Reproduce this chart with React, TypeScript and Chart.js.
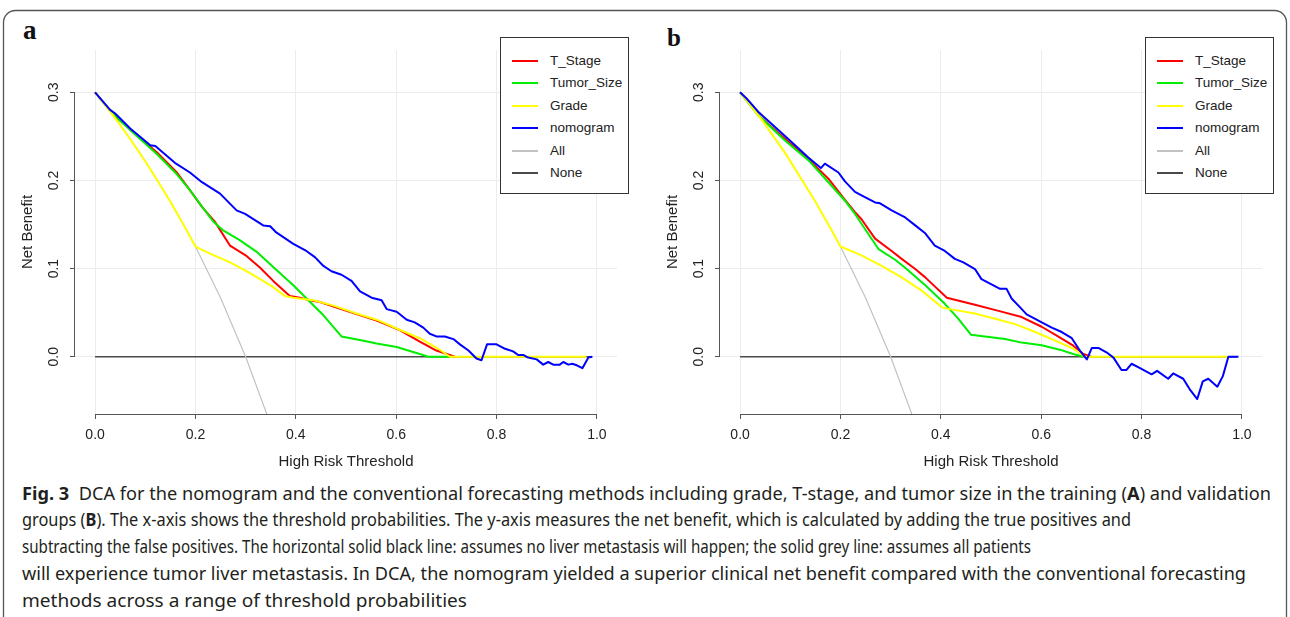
import React, { useEffect, useRef } from "react";
import { Chart, registerables } from "chart.js";

Chart.register(...registerables);

// ---------- axes ----------
const X_TICKS = [0, 0.2, 0.4, 0.6, 0.8, 1.0];
const Y_TICKS = [0, 0.1, 0.2, 0.3];
const X_MIN = -0.04;
const X_MAX = 1.04;
const Y_MIN = -0.065;
const Y_MAX = 0.348;

// ---------- series ----------
const SERIES_NAMES = ["T_Stage", "Tumor_Size", "Grade", "nomogram", "All", "None"];
const SERIES_COLORS = ["#ff0000", "#00ee00", "#ffff00", "#0000ff", "#c2c2c2", "#4a4a4a"];

// shared reference lines
const ALL_X = [0, 0.017, 0.033, 0.043, 0.07, 0.09, 0.11, 0.149, 0.183, 0.2, 0.25, 0.3, 0.35];
const ALL_Y = [0.3, 0.288, 0.276, 0.269, 0.247, 0.231, 0.213, 0.177, 0.143, 0.125, 0.067, 0.0, -0.077];
const NONE_X = [0, 0.99];
const NONE_Y = [0, 0];

// panel a (training)
const A_TSTAGE_X = [0, 0.03, 0.042, 0.076, 0.123, 0.163, 0.189, 0.213, 0.239, 0.269, 0.3, 0.329, 0.355, 0.388, 0.408, 0.428, 0.448, 0.501, 0.561, 0.608, 0.647, 0.68, 0.717];
const A_TSTAGE_Y = [0.3, 0.279, 0.272, 0.255, 0.232, 0.209, 0.189, 0.17, 0.153, 0.126, 0.115, 0.101, 0.086, 0.069, 0.067, 0.064, 0.062, 0.052, 0.041, 0.03, 0.017, 0.007, 0.0];

const A_TUMOR_X = [0, 0.03, 0.042, 0.076, 0.123, 0.163, 0.189, 0.216, 0.236, 0.256, 0.289, 0.322, 0.362, 0.395, 0.425, 0.455, 0.491, 0.535, 0.561, 0.601, 0.647, 0.664, 0.71];
const A_TUMOR_Y = [0.3, 0.279, 0.272, 0.254, 0.23, 0.207, 0.189, 0.168, 0.153, 0.143, 0.132, 0.119, 0.098, 0.081, 0.064, 0.047, 0.023, 0.018, 0.015, 0.011, 0.003, 0.0, 0.0];

const A_GRADE_X = [0, 0.033, 0.07, 0.11, 0.149, 0.183, 0.2, 0.229, 0.269, 0.299, 0.329, 0.355, 0.378, 0.395, 0.435, 0.475, 0.521, 0.561, 0.601, 0.647, 0.684, 0.707, 0.979];
const A_GRADE_Y = [0.3, 0.276, 0.247, 0.213, 0.177, 0.143, 0.125, 0.117, 0.107, 0.098, 0.088, 0.079, 0.069, 0.067, 0.064, 0.058, 0.049, 0.042, 0.032, 0.021, 0.009, 0.0, 0.0];

const A_NOMO_X = [0, 0.03, 0.04, 0.07, 0.11, 0.12, 0.159, 0.189, 0.213, 0.249, 0.282, 0.299, 0.335, 0.349, 0.361, 0.395, 0.421, 0.438, 0.455, 0.471, 0.491, 0.511, 0.528, 0.551, 0.571, 0.581, 0.601, 0.621, 0.637, 0.654, 0.667, 0.68, 0.697, 0.714, 0.727, 0.744, 0.76, 0.77, 0.781, 0.8, 0.817, 0.833, 0.843, 0.853, 0.863, 0.88, 0.893, 0.903, 0.913, 0.926, 0.933, 0.943, 0.951, 0.961, 0.971, 0.983, 0.991];
const A_NOMO_Y = [0.3, 0.28, 0.276, 0.259, 0.24, 0.239, 0.22, 0.209, 0.198, 0.185, 0.166, 0.162, 0.149, 0.148, 0.141, 0.128, 0.12, 0.113, 0.103, 0.097, 0.093, 0.086, 0.074, 0.067, 0.064, 0.054, 0.051, 0.042, 0.039, 0.033, 0.026, 0.023, 0.023, 0.02, 0.014, 0.007, -0.002, -0.004, 0.014, 0.014, 0.009, 0.006, 0.002, 0.002, -0.001, -0.003, -0.009, -0.006, -0.009, -0.009, -0.006, -0.009, -0.008, -0.01, -0.013, -0.001, 0.0];

// panel b (validation)
const B_TSTAGE_X = [0, 0.04, 0.09, 0.136, 0.176, 0.209, 0.229, 0.242, 0.269, 0.302, 0.322, 0.349, 0.369, 0.412, 0.432, 0.468, 0.515, 0.561, 0.601, 0.631, 0.664, 0.684, 0.7];
const B_TSTAGE_Y = [0.3, 0.272, 0.247, 0.224, 0.202, 0.178, 0.164, 0.156, 0.134, 0.12, 0.111, 0.0995, 0.09, 0.067, 0.064, 0.059, 0.052, 0.045, 0.034, 0.024, 0.0125, 0.003, 0.0];

const B_TUMOR_X = [0, 0.036, 0.09, 0.136, 0.176, 0.209, 0.229, 0.256, 0.276, 0.309, 0.329, 0.369, 0.408, 0.435, 0.46, 0.488, 0.528, 0.561, 0.601, 0.637, 0.664, 0.684];
const B_TUMOR_Y = [0.3, 0.274, 0.245, 0.223, 0.198, 0.177, 0.162, 0.139, 0.122, 0.11, 0.101, 0.081, 0.06, 0.043, 0.025, 0.023, 0.02, 0.016, 0.013, 0.008, 0.003, 0.0];

const B_GRADE_X = [0, 0.017, 0.043, 0.09, 0.149, 0.183, 0.2, 0.242, 0.282, 0.322, 0.362, 0.402, 0.418, 0.468, 0.508, 0.548, 0.588, 0.637, 0.664, 0.687, 0.973];
const B_GRADE_Y = [0.3, 0.288, 0.269, 0.231, 0.177, 0.143, 0.125, 0.115, 0.103, 0.09, 0.075, 0.056, 0.054, 0.049, 0.043, 0.037, 0.028, 0.016, 0.009, 0.0, 0.0];

const B_NOMO_X = [0, 0.013, 0.036, 0.063, 0.096, 0.136, 0.161, 0.169, 0.196, 0.209, 0.229, 0.242, 0.269, 0.279, 0.302, 0.329, 0.349, 0.369, 0.388, 0.408, 0.428, 0.445, 0.468, 0.481, 0.501, 0.518, 0.531, 0.541, 0.558, 0.571, 0.588, 0.601, 0.621, 0.641, 0.661, 0.677, 0.691, 0.701, 0.714, 0.73, 0.744, 0.76, 0.77, 0.78, 0.797, 0.82, 0.831, 0.853, 0.863, 0.883, 0.896, 0.911, 0.922, 0.933, 0.951, 0.962, 0.973, 0.993];
const B_NOMO_Y = [0.3, 0.293, 0.278, 0.264, 0.247, 0.226, 0.214, 0.219, 0.209, 0.199, 0.187, 0.183, 0.175, 0.174, 0.166, 0.158, 0.149, 0.14, 0.126, 0.12, 0.111, 0.107, 0.0995, 0.088, 0.082, 0.077, 0.077, 0.066, 0.056, 0.048, 0.043, 0.039, 0.033, 0.028, 0.021, 0.007, -0.003, 0.01, 0.01, 0.005, -0.001, -0.015, -0.015, -0.008, -0.013, -0.02, -0.016, -0.025, -0.019, -0.025, -0.037, -0.048, -0.028, -0.025, -0.034, -0.022, 0.0, 0.0];

// ---------- texts ----------
const X_TITLE = "High Risk Threshold";
const Y_TITLE = "Net Benefit";
const CAPTION_LINES: { parts: { t: string; b?: boolean }[]; w: number }[] = [
  {
    parts: [
      { t: "Fig. 3", b: true },
      { t: "  DCA for the nomogram and the conventional forecasting methods including grade, T-stage, and tumor size in the training (" },
      { t: "A", b: true },
      { t: ") and validation" },
    ],
    w: 1249,
  },
  {
    parts: [
      { t: "groups (" },
      { t: "B", b: true },
      { t: "). The x-axis shows the threshold probabilities. The y-axis measures the net benefit, which is calculated by adding the true positives and" },
    ],
    w: 1109,
  },
  {
    parts: [{ t: "subtracting the false positives. The horizontal solid black line: assumes no liver metastasis will happen; the solid grey line: assumes all patients" }],
    w: 1009,
  },
  {
    parts: [{ t: "will experience tumor liver metastasis. In DCA, the nomogram yielded a superior clinical net benefit compared with the conventional forecasting" }],
    w: 1224,
  },
  { parts: [{ t: "methods across a range of threshold probabilities" }], w: 445 },
];

const AX_FONT = "'Liberation Sans', Arial, Helvetica, sans-serif";

type Series = { xs: number[]; ys: number[] };

const axisLinesPlugin = {
  id: "rAxisLines",
  afterDraw(chart: any) {
    const { ctx, chartArea, scales } = chart;
    const x = scales.x;
    const y = scales.y;
    ctx.save();
    ctx.strokeStyle = "#555";
    ctx.lineWidth = 1;
    ctx.beginPath();
    const yb = Math.round(chartArea.bottom) + 0.5;
    ctx.moveTo(x.getPixelForValue(X_TICKS[0]), yb);
    ctx.lineTo(x.getPixelForValue(X_TICKS[X_TICKS.length - 1]), yb);
    const xl = Math.round(chartArea.left) - 0.5;
    ctx.moveTo(xl, y.getPixelForValue(Y_TICKS[0]));
    ctx.lineTo(xl, y.getPixelForValue(Y_TICKS[Y_TICKS.length - 1]));
    ctx.stroke();
    ctx.restore();
  },
};

function toPoints(xs: number[], ys: number[]) {
  return xs.map((x, i) => ({ x, y: ys[i] }));
}

function Panel({ left, series }: { left: number; series: Series[] }) {
  const ref = useRef<HTMLCanvasElement | null>(null);
  useEffect(() => {
    if (!ref.current) return;
    const widths = [2, 2, 2, 2, 1.2, 1.6];
    const orders = [3, 2, 1, 0, 4, 5];
    const datasets = series.map((s, i) => ({
      label: SERIES_NAMES[i],
      data: toPoints(s.xs, s.ys),
      borderColor: SERIES_COLORS[i],
      backgroundColor: SERIES_COLORS[i],
      borderWidth: widths[i],
      pointRadius: 0,
      tension: 0,
      fill: false,
      order: orders[i],
      borderJoinStyle: "round" as const,
    }));
    const tickFont = { family: AX_FONT, size: 14 };
    const titleFont = { family: AX_FONT, size: 15 };
    const chart = new Chart(ref.current, {
      type: "line",
      data: { datasets },
      options: {
        responsive: false,
        animation: false,
        devicePixelRatio: 1,
        layout: { padding: { top: 50, right: 28, left: 0, bottom: 0 } },
        plugins: { legend: { display: false }, tooltip: { enabled: false } },
        scales: {
          x: {
            type: "linear",
            min: X_MIN,
            max: X_MAX,
            afterBuildTicks: (s: any) => {
              s.ticks = X_TICKS.map((v) => ({ value: v }));
            },
            afterFit: (s: any) => {
              s.height = 66;
            },
            ticks: {
              callback: (v: any) => Number(v).toFixed(1),
              font: tickFont,
              color: "#222",
              padding: 8,
              maxRotation: 0,
              autoSkip: false,
            },
            grid: { color: "#ececec", tickColor: "#555", tickLength: 5, lineWidth: 1 },
            border: { display: false },
            title: { display: true, text: X_TITLE, font: titleFont, color: "#222", padding: { top: 0, bottom: 9 } },
          },
          y: {
            type: "linear",
            min: Y_MIN,
            max: Y_MAX,
            afterBuildTicks: (s: any) => {
              s.ticks = Y_TICKS.map((v) => ({ value: v }));
            },
            afterFit: (s: any) => {
              s.width = 75;
            },
            ticks: {
              callback: (v: any) => Number(v).toFixed(1),
              font: tickFont,
              color: "#222",
              padding: 6,
              minRotation: 90,
              maxRotation: 90,
              crossAlign: "center",
              autoSkip: false,
            },
            grid: { color: "#ececec", tickColor: "#555", tickLength: 5, lineWidth: 1 },
            border: { display: false },
            title: { display: true, text: Y_TITLE, font: titleFont, color: "#222", padding: { top: 19, bottom: 0 } },
          },
        },
      } as any,
      plugins: [axisLinesPlugin],
    });
    return () => chart.destroy();
  }, [series]);

  return (
    <div style={{ position: "absolute", left, top: 0, width: 645, height: 480 }}>
      <canvas ref={ref} width={645} height={480} style={{ position: "absolute", left: 0, top: 0, width: 645, height: 480 }} />
      <div
        style={{
          position: "absolute",
          left: 500,
          top: 37,
          width: 127,
          height: 155,
          border: "1px solid #333",
          background: "#fff",
          fontFamily: AX_FONT,
          fontSize: 13.5,
          color: "#222",
        }}
      >
        {SERIES_NAMES.map((n, i) => (
          <React.Fragment key={n}>
            <div
              style={{
                position: "absolute",
                left: 11,
                top: 23 + i * 22.4 - 1,
                width: 26,
                height: 2,
                background: SERIES_COLORS[i],
              }}
            />
            <div
              style={{
                position: "absolute",
                left: 49,
                top: 23 + i * 22.4 - 10,
                height: 20,
                lineHeight: "20px",
                whiteSpace: "nowrap",
              }}
            >
              {n}
            </div>
          </React.Fragment>
        ))}
      </div>
    </div>
  );
}

const PANEL_A: Series[] = [
  { xs: A_TSTAGE_X, ys: A_TSTAGE_Y },
  { xs: A_TUMOR_X, ys: A_TUMOR_Y },
  { xs: A_GRADE_X, ys: A_GRADE_Y },
  { xs: A_NOMO_X, ys: A_NOMO_Y },
  { xs: ALL_X, ys: ALL_Y },
  { xs: NONE_X, ys: NONE_Y },
];
const PANEL_B: Series[] = [
  { xs: B_TSTAGE_X, ys: B_TSTAGE_Y },
  { xs: B_TUMOR_X, ys: B_TUMOR_Y },
  { xs: B_GRADE_X, ys: B_GRADE_Y },
  { xs: B_NOMO_X, ys: B_NOMO_Y },
  { xs: ALL_X, ys: ALL_Y },
  { xs: NONE_X, ys: NONE_Y },
];

export default function App() {
  const capFont = "'Noto Sans', 'Open Sans', sans-serif";
  const serif = "'Liberation Serif', 'Times New Roman', serif";
  return (
    <div style={{ position: "absolute", left: 0, top: 0, width: 1290, height: 617, background: "#fff", overflow: "hidden" }}>
      <svg width={1290} height={617} style={{ position: "absolute", left: 0, top: 0 }}>
        <rect x={3.5} y={10.5} width={1283} height={660} rx={12} ry={12} fill="none" stroke="#555" strokeWidth={1.3} />
        <text x={23} y={39} fontFamily={serif} fontWeight="bold" fontSize={27} fill="#111">
          a
        </text>
        <text x={667} y={46} fontFamily={serif} fontWeight="bold" fontSize={25} fill="#111">
          b
        </text>
        {CAPTION_LINES.map((ln, i) => (
          <text
            key={i}
            x={22}
            y={499.5 + i * 26.8}
            fontFamily={capFont}
            fontSize={17.5}
            fill="#231f20"
            textLength={ln.w}
            lengthAdjust="spacingAndGlyphs"
            style={{ whiteSpace: "pre" }}
          >
            {ln.parts.map((p, j) => (
              <tspan key={j} fontWeight={p.b ? "bold" : "normal"}>
                {p.t}
              </tspan>
            ))}
          </text>
        ))}
      </svg>
      <Panel left={0} series={PANEL_A} />
      <Panel left={645} series={PANEL_B} />
    </div>
  );
}
